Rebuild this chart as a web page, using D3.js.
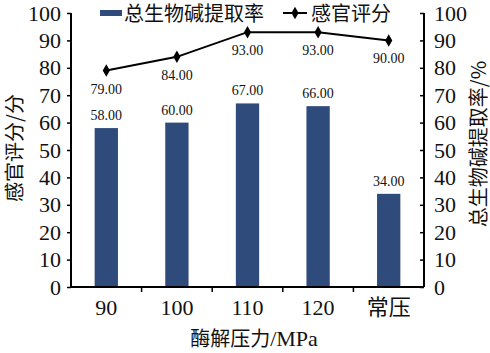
<!DOCTYPE html>
<html>
<head>
<meta charset="utf-8">
<script src="https://cdn.jsdelivr.net/npm/d3@7"></script>
<style>
  body { margin: 0; background: #fff; }
  text { font-family: "Liberation Serif", "Noto Sans CJK SC", serif; fill: #111; }
  .cn { font-family: "Noto Sans CJK SC", sans-serif; }
</style>
</head>
<body>
<div id="chart"></div>
<script>
// data
var categories = ["90", "100", "110", "120", "常压"];
var extractRate = [58, 60, 67, 66, 34];   // 总生物碱提取率 (right axis, bars)
var sensoryScore = [79, 84, 93, 93, 90];  // 感官评分 (left axis, line)
var yTicks = [0, 10, 20, 30, 40, 50, 60, 70, 80, 90, 100];

var W = 490, H = 353;
var margin = {top: 13, right: 66, bottom: 66, left: 71},
    width = W - margin.left - margin.right,
    height = H - margin.top - margin.bottom;

var svg = d3.select("#chart").append("svg")
    .attr("width", W).attr("height", H);
var g = svg.append("g")
    .attr("transform", "translate(" + margin.left + "," + margin.top + ")");

var x = d3.scaleBand().domain(categories).range([0, width]).padding(0);
var yL = d3.scaleLinear().domain([0, 100]).range([height, 0]);
var yR = d3.scaleLinear().domain([0, 100]).range([height, 0]);
var barW = x.bandwidth() * 0.33;
var barColor = "#2f4b7c";

// bars
g.selectAll("rect.bar")
    .data(extractRate)
    .enter().append("rect")
    .attr("class", "bar")
    .attr("x", function(d, i) { return x(categories[i]) + x.bandwidth() / 2 - barW / 2; })
    .attr("y", function(d) { return yR(d); })
    .attr("width", barW)
    .attr("height", function(d) { return height - yR(d); })
    .attr("fill", barColor);

g.selectAll("text.blab")
    .data(extractRate)
    .enter().append("text")
    .attr("class", "blab")
    .attr("x", function(d, i) { return x(categories[i]) + x.bandwidth() / 2; })
    .attr("y", function(d) { return yR(d) - 8; })
    .attr("text-anchor", "middle")
    .style("font-size", "14px")
    .text(function(d) { return d.toFixed(2); });

// line
var line = d3.line()
    .x(function(d, i) { return x(categories[i]) + x.bandwidth() / 2; })
    .y(function(d) { return yL(d); });
g.append("path")
    .datum(sensoryScore)
    .attr("d", line)
    .attr("fill", "none")
    .attr("stroke", "#000")
    .attr("stroke-width", 2);

var diamond = d3.symbol().type(d3.symbolDiamond).size(45);
g.selectAll("path.pt")
    .data(sensoryScore)
    .enter().append("path")
    .attr("class", "pt")
    .attr("d", diamond)
    .attr("transform", function(d, i) {
        return "translate(" + (x(categories[i]) + x.bandwidth() / 2) + "," + yL(d) + ")";
    })
    .attr("fill", "#000");

g.selectAll("text.llab")
    .data(sensoryScore)
    .enter().append("text")
    .attr("class", "llab")
    .attr("x", function(d, i) { return x(categories[i]) + x.bandwidth() / 2; })
    .attr("y", function(d) { return yL(d) + 23; })
    .attr("text-anchor", "middle")
    .style("font-size", "14px")
    .text(function(d) { return d.toFixed(2); });

// axes
var leftAxis = g.append("g")
    .call(d3.axisLeft(yL).tickValues(yTicks).tickSize(4).tickPadding(6));
var rightAxis = g.append("g")
    .attr("transform", "translate(" + width + ",0)")
    .call(d3.axisRight(yR).tickValues(yTicks).tickSize(-4).tickPadding(10));
var xAxis = g.append("g")
    .attr("transform", "translate(0," + height + ")")
    .call(d3.axisBottom(x).tickSize(0).tickPadding(12));

[leftAxis, rightAxis, xAxis].forEach(function(a) {
    a.select(".domain").attr("stroke", "#000").attr("stroke-width", 2);
    a.selectAll(".tick line").attr("stroke", "#000").attr("stroke-width", 1.5);
    a.selectAll("text").style("font-size", "22px").style("font-family", "Liberation Serif, Noto Sans CJK SC, serif").attr("fill", "#111");
});
rightAxis.select(".domain").attr("d", "M0,0V" + height);
leftAxis.select(".domain").attr("d", "M0,0V" + height);
xAxis.select(".domain").attr("d", "M0,0H" + width);

// x boundary ticks between categories
g.selectAll("line.xb")
    .data(categories.slice(1))
    .enter().append("line")
    .attr("class", "xb")
    .attr("x1", function(d) { return x(d); })
    .attr("x2", function(d) { return x(d); })
    .attr("y1", height).attr("y2", height + 5)
    .attr("stroke", "#000").attr("stroke-width", 1.5);

// axis titles
svg.append("text")
    .attr("class", "cn")
    .attr("transform", "translate(13,148) rotate(-90)")
    .attr("text-anchor", "middle").attr("dominant-baseline", "central")
    .style("font-size", "20px")
    .text("感官评分/分");
svg.append("text")
    .attr("class", "cn")
    .attr("transform", "translate(477,144) rotate(-90)")
    .attr("text-anchor", "middle").attr("dominant-baseline", "central")
    .style("font-size", "20px")
    .text("总生物碱提取率/%");
var xt = svg.append("text")
    .attr("x", 254).attr("y", 346)
    .attr("text-anchor", "middle")
    .style("font-size", "20px");
xt.append("tspan").attr("class", "cn").text("酶解压力");
xt.append("tspan").style("font-family", "Liberation Serif").style("font-size", "22px").text("/MPa");

// legend
var lg = svg.append("g").attr("transform", "translate(100,13)");
lg.append("rect").attr("x", 0).attr("y", -3).attr("width", 22).attr("height", 6).attr("fill", barColor);
lg.append("text").attr("class", "cn").attr("x", 24).attr("y", 8)
    .style("font-size", "20px").text("总生物碱提取率");
lg.append("line").attr("x1", 183).attr("x2", 207).attr("y1", 0).attr("y2", 0)
    .attr("stroke", "#000").attr("stroke-width", 2);
lg.append("path").attr("d", diamond).attr("transform", "translate(195,0)").attr("fill", "#000");
lg.append("text").attr("class", "cn").attr("x", 211).attr("y", 8)
    .style("font-size", "20px").text("感官评分");
</script>
</body>
</html>
